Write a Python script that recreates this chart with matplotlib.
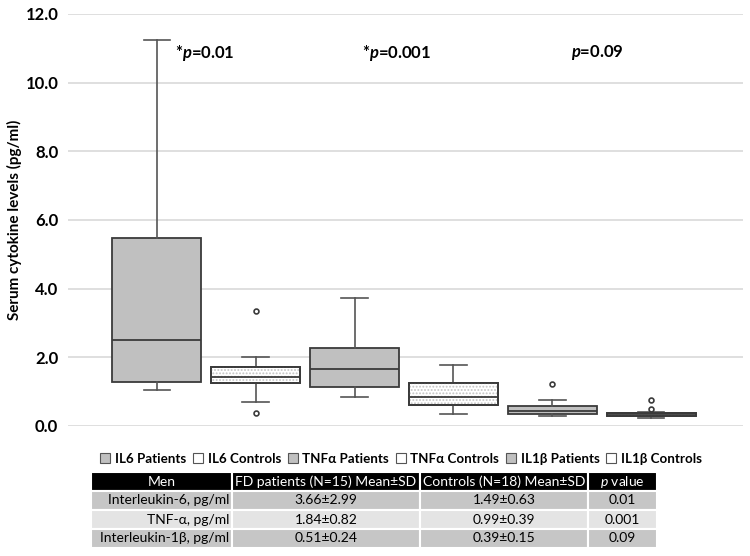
import numpy as np
import matplotlib
matplotlib.use('Agg')
import matplotlib.pyplot as plt
from matplotlib.patches import Patch, PathPatch

plt.rcParams['font.family'] = ['Lato', 'DejaVu Sans']
plt.rcParams['mathtext.fontset'] = 'custom'
plt.rcParams['mathtext.it'] = 'Lato:italic:bold'
plt.rcParams['mathtext.sf'] = 'Lato:italic'
plt.rcParams['mathtext.rm'] = 'Lato'
plt.rcParams['hatch.linewidth'] = 0.9

# box statistics (pg/ml)
groups = ['IL6 Patients', 'IL6 Controls', 'TNFα Patients', 'TNFα Controls', 'IL1β Patients', 'IL1β Controls']
q1 = [1.28, 1.25, 1.14, 0.61, 0.35, 0.30]
med = [2.51, 1.43, 1.66, 0.85, 0.44, 0.35]
q3 = [5.48, 1.72, 2.27, 1.25, 0.58, 0.38]
whislo = [1.05, 0.70, 0.85, 0.35, 0.29, 0.24]
whishi = [11.25, 2.01, 3.73, 1.78, 0.76, 0.40]
fliers = [[], [3.35, 0.38], [], [], [1.22], [0.76, 0.50]]
is_patient = [True, False, True, False, True, False]

pvals = ['*$p$=0.01', '*$p$=0.001', '$p$=0.09']

tab_cols = ['Men', 'FD patients (N=15) Mean±SD', 'Controls (N=18) Mean±SD', r'$\mathsf{p}$ value']
tab_rows = ['Interleukin-6, pg/ml', 'TNF-α, pg/ml', 'Interleukin-1β, pg/ml']
fd_vals = ['3.66±2.99', '1.84±0.82', '0.51±0.24']
ctrl_vals = ['1.49±0.63', '0.99±0.39', '0.39±0.15']
p_col = ['0.01', '0.001', '0.09']

fig = plt.figure(figsize=(7.5, 5.56), dpi=100)
ax = fig.add_axes([68/750, 1-426/556, (743-68)/750, (426-14)/556])

stats = []
for i in range(6):
    stats.append(dict(med=med[i], q1=q1[i], q3=q3[i], whislo=whislo[i], whishi=whishi[i], fliers=fliers[i]))
pos = np.arange(1, 7)
edge = '#3a3a3a'
bp = ax.bxp(stats, positions=pos, widths=0.9, capwidths=0.27, patch_artist=True, showfliers=True,
            boxprops=dict(edgecolor=edge, linewidth=1.3),
            medianprops=dict(color=edge, linewidth=1.3),
            whiskerprops=dict(color='#555555', linewidth=1.2),
            capprops=dict(color='#555555', linewidth=1.2),
            flierprops=dict(marker='o', markersize=3.5, markerfacecolor='white',
                            markeredgecolor=edge, markeredgewidth=1.2))
for box, pat in zip(bp['boxes'], is_patient):
    if pat:
        box.set_facecolor('#c0c0c0')
    else:
        box.set_facecolor('white')
        z = box.get_zorder()
        ax.add_patch(PathPatch(box.get_path(), facecolor='none', edgecolor='#c4c4c4',
                               hatch='.....', lw=0, zorder=z + 0.01))
        ax.add_patch(PathPatch(box.get_path(), facecolor='none', edgecolor=edge,
                               lw=1.3, zorder=z + 0.02))
for m in bp['medians']:
    m.set_zorder(3)

ax.set_xlim(0.1, 6.93)
ax.set_ylim(0, 12)
ax.set_yticks(np.arange(0, 12.1, 2))
ax.set_yticklabels(['%.1f' % v for v in np.arange(0, 12.1, 2)], fontsize=12, fontweight='bold')
ax.set_xticks([])
ax.grid(axis='y', color='#d9d9d9', linewidth=1.2)
ax.set_axisbelow(True)
for s in ax.spines.values():
    s.set_visible(False)
ax.tick_params(axis='y', length=0, pad=7)
ax.set_ylabel('Serum cytokine levels (pg/ml)', fontsize=11, fontweight='bold')
ax.yaxis.set_label_coords(-0.068, 0.5)

for xp, t in zip([1.18, 3.07, 5.19], pvals):
    ax.text(xp, 10.87, t, fontsize=12, fontweight='bold', ha='left', va='center')

handles = [Patch(facecolor='#c0c0c0' if p else 'white', edgecolor='#555555', linewidth=0.8) for p in is_patient]
fig.legend(handles, groups, loc='center', bbox_to_anchor=(401/750, 1-459/556), ncol=6, frameon=False,
           handlelength=0.75, handleheight=0.75, handletextpad=0.35, columnspacing=0.5,
           prop=dict(weight='bold', size=9.6))

tax = fig.add_axes([91/750, 1-548/556, (657-91)/750, (548-472)/556])
tax.axis('off')
cell_text = [[tab_rows[i], fd_vals[i], ctrl_vals[i], p_col[i]] for i in range(3)]
row_cols = ['#c6c6c6', '#e4e4e4', '#c6c6c6']
colours = [[c] * 4 for c in row_cols]
widths = np.array([141, 188, 168, 69]) / 566
tbl = tax.table(cellText=cell_text, colLabels=tab_cols, cellColours=colours, colWidths=widths,
                bbox=[0, 0, 1, 1], cellLoc='center')
tbl.auto_set_font_size(False)
for (r, c), cell in tbl.get_celld().items():
    cell.set_edgecolor('white')
    cell.set_linewidth(1.5)
    cell.get_text().set_fontsize(10)
    if r == 0:
        cell.set_facecolor('black')
        cell.get_text().set_color('white')
    elif c == 0:
        cell.get_text().set_ha('right')
        cell._loc = 'right'
        cell.PAD = 0.02

fig.savefig('out.png', dpi=100)
